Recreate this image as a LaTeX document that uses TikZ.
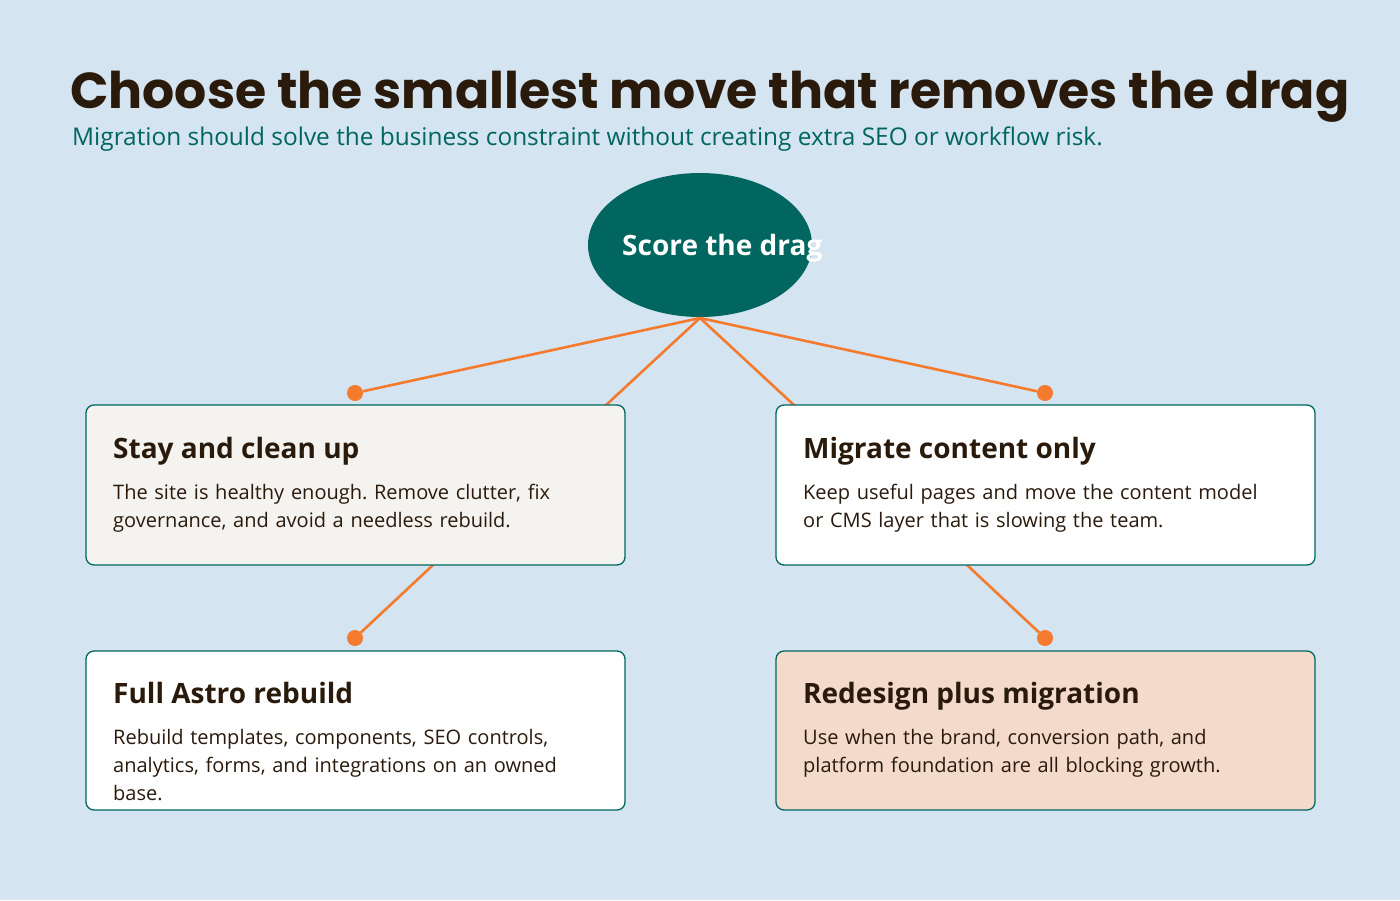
\documentclass[tikz,border=0pt]{standalone}
\usepackage{fontspec}
\setmainfont{Open Sans}
\newfontfamily\titlefont{Poppins}
\usetikzlibrary{shapes.geometric}
\definecolor{bg}{HTML}{D4E4F1}
\definecolor{teal}{HTML}{00665F}
\definecolor{org}{HTML}{F47A2E}
\definecolor{ink}{HTML}{2A1A0C}
\definecolor{cream}{HTML}{F4F3EF}
\definecolor{peach}{HTML}{F3DACB}
\begin{document}
\frenchspacing
\hyphenpenalty=10000
\exhyphenpenalty=10000
\begin{tikzpicture}[x=1pt,y=-1pt,
  box/.style={draw=teal,line width=1.3pt,rounded corners=8pt},
  conn/.style={draw=org,line width=2.6pt},
  dot/.style={circle,fill=org,inner sep=0pt,minimum size=16pt},
  bt/.style={anchor=base west,font=\fontsize{28}{32}\selectfont\bfseries,text=ink,inner sep=0pt},
  bb/.style={anchor=north west,font=\fontsize{20}{28}\selectfont,text=ink,inner sep=0pt,align=left,text width=470pt}]
\fill[bg] (0,0) rectangle (1400,900);
\useasboundingbox (0,0) rectangle (1400,900);
\node[anchor=base west,inner sep=0pt,text=ink,font=\titlefont\fontsize{50.5}{56}\selectfont\bfseries] (title) at (70,108) {Choose the smallest move that removes the drag};
\node[anchor=base west,inner sep=0pt,text=teal,font=\fontsize{24.4}{28}\selectfont] (sub) at (72,145) {Migration should solve the business constraint without creating extra SEO or workflow risk.};
\node[ellipse,fill=teal,minimum width=224pt,minimum height=144pt,inner sep=0pt] (root) at (700,245) {};
\coordinate (rb) at (700,318);
\node[anchor=west,inner sep=0pt,text=white,font=\fontsize{28}{32}\selectfont\bfseries] (rt) at (622,248) {Score the drag};
\node[dot] (d1) at (355,393) {};
\node[dot] (d2) at (1045,393) {};
\node[dot] (d3) at (355,638) {};
\node[dot] (d4) at (1045,638) {};
\coordinate (t1) at (605,406);
\coordinate (t2) at (795,406);
\coordinate (b1) at (433,565);
\coordinate (b2) at (967,565);
\draw[conn] (rb) -- (d1);
\draw[conn] (rb) -- (d2);
\draw[conn] (rb) -- (t1);
\draw[conn] (rb) -- (t2);
\draw[conn] (b1) -- (d3);
\draw[conn] (b2) -- (d4);
\draw[box,fill=cream] (86,405) rectangle (625,565);
\draw[box,fill=white] (776,405) rectangle (1315,565);
\draw[box,fill=white] (86,651) rectangle (625,810);
\draw[box,fill=peach] (776,651) rectangle (1315,810);
\node[bt] (h1) at (113,458) {Stay and clean up};
\node[bb] (p1) at (113,484) {The site is healthy enough. Remove clutter, fix governance, and avoid a needless rebuild.};
\node[bt] (h2) at (803,458) {Migrate content only};
\node[bb] (p2) at (803,484) {Keep useful pages and move the content model or CMS layer that is slowing the team.};
\node[bt] (h3) at (113,703) {Full Astro rebuild};
\node[bb] (p3) at (113,729) {Rebuild templates, components, SEO controls, analytics, forms, and integrations on an owned base.};
\node[bt] (h4) at (803,703) {Redesign plus migration};
\node[bb] (p4) at (803,729) {Use when the brand, conversion path, and platform foundation are all blocking growth.};
\end{tikzpicture}
\end{document}
